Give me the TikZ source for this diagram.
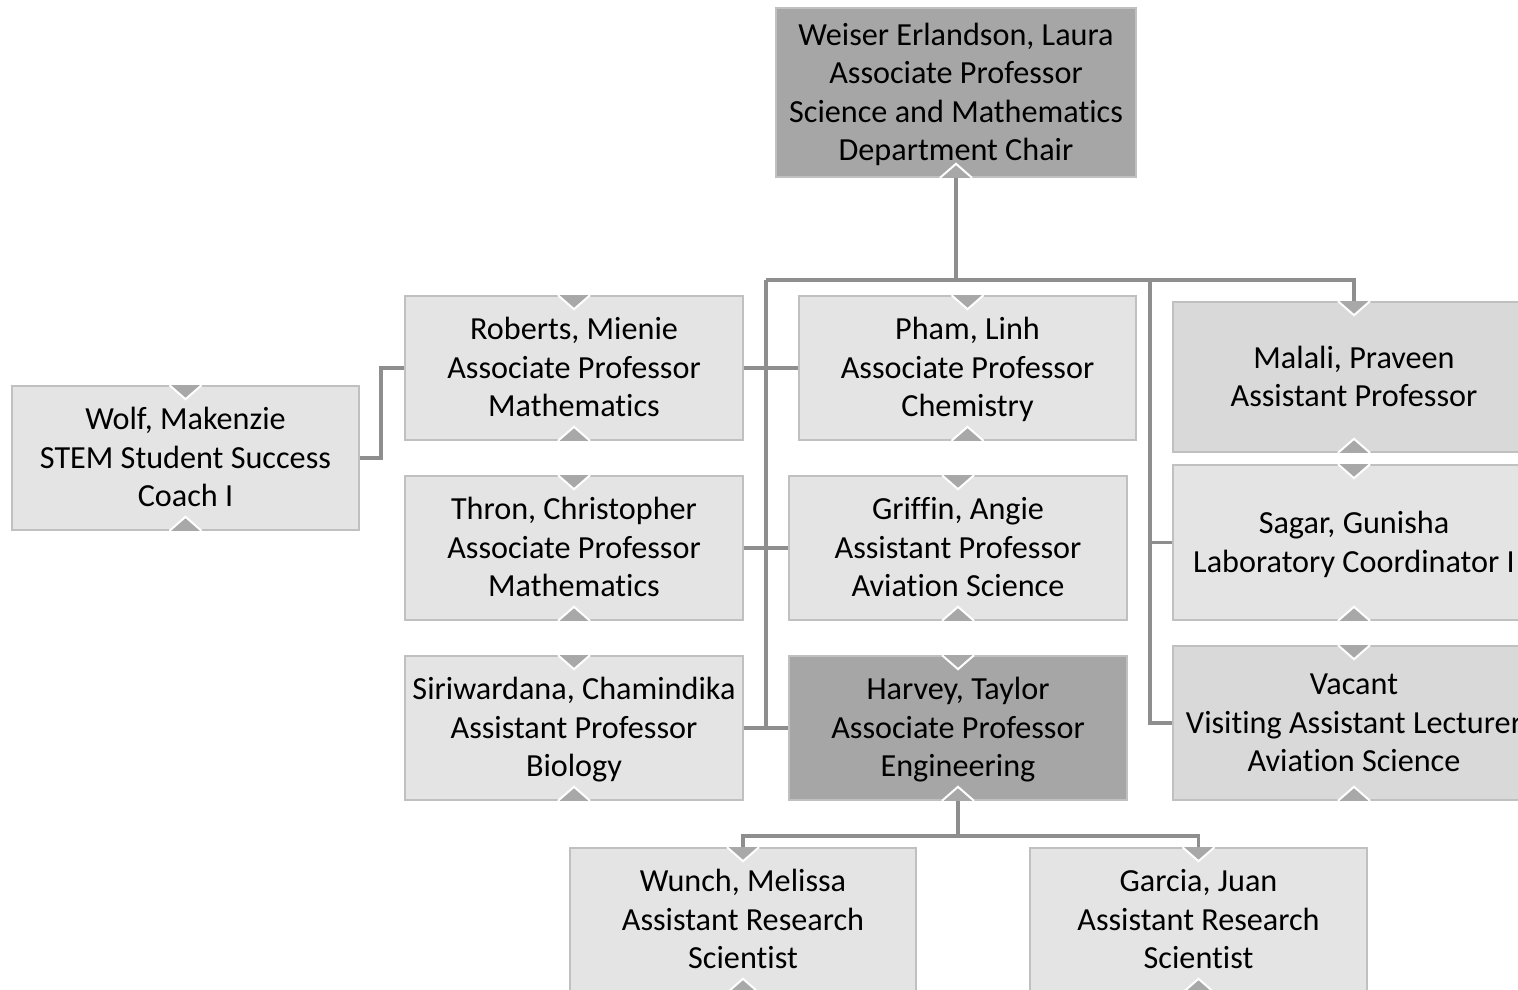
\documentclass[tikz,border=0pt]{standalone}
\usepackage{fontspec}
\setmainfont[Ligatures=NoCommon]{Carlito}
\usetikzlibrary{positioning}
\definecolor{boxlight}{HTML}{E4E4E4}
\definecolor{boxmid}{HTML}{D9D9D9}
\definecolor{boxdark}{HTML}{A6A6A6}
\definecolor{boxedge}{HTML}{C0C0C0}
\definecolor{connc}{HTML}{8E8E8E}
\definecolor{chevc}{HTML}{A8A8A8}
\newcommand\firstln{\rule{0pt}{32.5pt}}
\tikzset{
  person/.style={draw=boxedge, line width=1.6pt, inner sep=0pt, align=center,
    font=\fontsize{32.2}{38.5}\selectfont, text=black},
  lightbox/.style={person, fill=boxlight},
  midbox/.style={person, fill=boxmid},
  darkbox/.style={person, fill=boxdark},
  conn/.style={draw=connc, line width=3.6pt},
  chev/.style={fill=chevc, draw=white, line width=2pt, line join=miter}
}
\begin{document}
\begin{tikzpicture}[x=1pt,y=-1pt]
\useasboundingbox (0,0) rectangle (1518,990);
\clip (0,0) rectangle (1518,990);
\fill[white] (0,0) rectangle (1518,990);
% boxes
\node[darkbox, minimum width=360pt, minimum height=169pt] (wei) at (956,92.5)
  {\firstln Weiser Erlandson, Laura\\\strut Associate Professor\\\strut Science and Mathematics\\\strut Department Chair};
\node[lightbox, minimum width=338pt, minimum height=144pt] (rob) at (574,368)
  {\firstln Roberts, Mienie\\\strut Associate Professor\\\strut Mathematics};
\node[lightbox, minimum width=337pt, minimum height=144pt] (pha) at (967.5,368)
  {\firstln Pham, Linh\\\strut Associate Professor\\\strut Chemistry};
\node[midbox, minimum width=362pt, minimum height=150pt] (mal) at (1354,377)
  {\firstln Malali, Praveen\\\strut Assistant Professor};
\node[lightbox, minimum width=347pt, minimum height=144pt] (wol) at (185.5,458)
  {\firstln Wolf, Makenzie\\\strut STEM Student Success\\\strut Coach I};
\node[lightbox, minimum width=338pt, minimum height=144pt] (thr) at (574,548)
  {\firstln Thron, Christopher\\\strut Associate Professor\\\strut Mathematics};
\node[lightbox, minimum width=338pt, minimum height=144pt] (gri) at (958,548)
  {\firstln Griffin, Angie\\\strut Assistant Professor\\\strut Aviation Science};
\node[lightbox, minimum width=362pt, minimum height=155pt] (sag) at (1354,542.5)
  {\firstln Sagar, Gunisha\\\strut Laboratory Coordinator I};
\node[lightbox, minimum width=338pt, minimum height=144pt] (sir) at (574,728)
  {\firstln Siriwardana, Chamindika\\\strut Assistant Professor\\\strut Biology};
\node[darkbox, minimum width=338pt, minimum height=144pt] (har) at (958,728)
  {\firstln Harvey, Taylor\\\strut Associate Professor\\\strut Engineering};
\node[midbox, minimum width=362pt, minimum height=154pt] (vac) at (1354,723)
  {\firstln Vacant\\\strut Visiting Assistant Lecturer\\\strut Aviation Science};
\node[lightbox, minimum width=346pt, minimum height=144pt] (wun) at (743,920)
  {\firstln Wunch, Melissa\\\strut Assistant Research\\\strut Scientist};
\node[lightbox, minimum width=337pt, minimum height=144pt] (gar) at (1198.5,920)
  {\firstln Garcia, Juan\\\strut Assistant Research\\\strut Scientist};
% connectors
\coordinate (bus) at (956,280);
\coordinate (lt) at (766,280);
\coordinate (rt) at (1150,280);
\coordinate (hb) at (958,836);
\draw[conn] (wei.south) -- (bus);
\draw[conn] (lt) -- (bus) -| (mal.north);
\draw[conn] (lt) -- (lt |- sir.east);
\draw[conn] (rob.east) -- (pha.west);
\draw[conn] (thr.east) -- (gri.west);
\draw[conn] (sir.east) -- (har.west);
\draw[conn] (rt) |- (vac.west);
\draw[conn] (rt |- sag.west) -- (sag.west);
\draw[conn] (rob.west) -- ++(-23,0) |- (wol.east);
\draw[conn] (har.south) -- (hb);
\draw[conn] (hb) -| (wun.north);
\draw[conn] (hb) -| (gar.north);
% chevrons
\foreach \n in {rob,pha,mal,wol,thr,gri,sag,sir,har,vac,wun,gar}{
  \filldraw[chev] ([xshift=-16pt]\n.north) -- ([yshift=-14pt]\n.north) -- ([xshift=16pt]\n.north);
}
\foreach \n in {wei,rob,pha,mal,wol,thr,gri,sag,sir,har,vac,wun,gar}{
  \filldraw[chev] ([xshift=-16pt]\n.south) -- ([yshift=14pt]\n.south) -- ([xshift=16pt]\n.south);
}
\end{tikzpicture}
\end{document}
